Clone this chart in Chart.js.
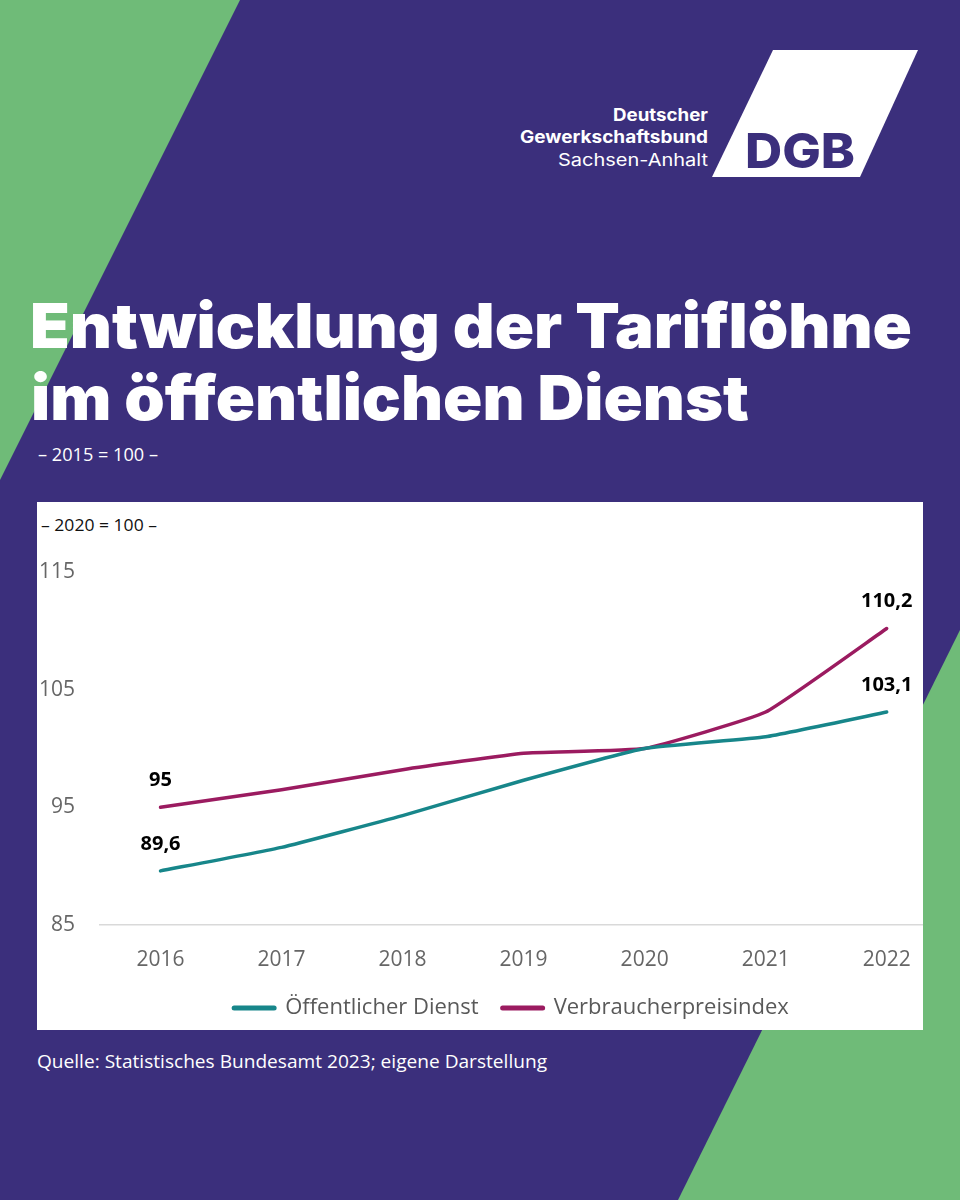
<!DOCTYPE html>
<html lang="de">
<head>
<meta charset="utf-8">
<title>Entwicklung der Tariflöhne im öffentlichen Dienst</title>
<script src="https://cdn.jsdelivr.net/npm/chart.js@4/dist/chart.umd.min.js"></script>
<style>
  html, body { margin: 0; padding: 0; }
  body { width: 960px; height: 1200px; overflow: hidden; position: relative; background: #3b2f7c; }
  svg.bg { position: absolute; left: 0; top: 0; }
  .chart-box { position: absolute; left: 37px; top: 502px; width: 886px; height: 528px; }
</style>
</head>
<body>

<svg class="bg" width="960" height="1200" viewBox="0 0 960 1200">
  <rect width="960" height="1200" fill="#3b2f7c"/>
  <polygon points="0,0 240,0 0,480" fill="#6fbb78"/>
  <polygon points="960,630 960,1200 678,1200" fill="#6fbb78"/>

  <!-- logo -->
  <polygon points="773,50 918,50 860,177 712,177" fill="#ffffff"/>
  <text x="745" y="168" font-family="Inter" font-weight="800" font-size="48" fill="#3b2f7c"
        textLength="110" lengthAdjust="spacingAndGlyphs">DGB</text>
  <g font-family="Inter" font-size="17" fill="#ffffff">
    <text x="613" y="121" font-weight="700" textLength="95" lengthAdjust="spacingAndGlyphs">Deutscher</text>
    <text x="520" y="143" font-weight="700" textLength="188" lengthAdjust="spacingAndGlyphs">Gewerkschaftsbund</text>
    <text x="558" y="166" font-weight="400" textLength="150" lengthAdjust="spacingAndGlyphs">Sachsen-Anhalt</text>
  </g>

  <!-- title -->
  <g font-family="Inter" font-weight="900" font-size="62" fill="#ffffff">
    <text x="30" y="348" textLength="882" lengthAdjust="spacingAndGlyphs">Entwicklung der Tariflöhne</text>
    <text x="31" y="420" textLength="718" lengthAdjust="spacingAndGlyphs">im öffentlichen Dienst</text>
  </g>
  <text x="38" y="461" font-family="Open Sans" font-size="18" fill="#ffffff"
        textLength="120" lengthAdjust="spacingAndGlyphs">– 2015 = 100 –</text>

  <!-- chart panel -->
  <rect x="37" y="502" width="886" height="528" fill="#ffffff"/>
  <text x="41" y="531" font-family="Open Sans" font-size="17" fill="#111111"
        textLength="116" lengthAdjust="spacingAndGlyphs">– 2020 = 100 –</text>

  <text x="37" y="1068" font-family="Open Sans" font-size="19" fill="#ffffff"
        textLength="510" lengthAdjust="spacingAndGlyphs">Quelle: Statistisches Bundesamt 2023; eigene Darstellung</text>
</svg>

<div class="chart-box">
  <canvas id="chart" width="886" height="528"></canvas>
</div>

<script>
// data (Index, 2020 = 100)
const years = [2016, 2017, 2018, 2019, 2020, 2021, 2022];
const oeffentlicherDienst = [89.6, 91.6, 94.3, 97.3, 100, 101.0, 103.1];
const verbraucherpreisindex = [95, 96.5, 98.2, 99.6, 100, 103.1, 110.2];
const seriesNames = ["Öffentlicher Dienst", "Verbraucherpreisindex"];
const seriesColors = ["#17868a", "#9b1b60"];
const yTicks = [85, 95, 105, 115];
const labelledPoints = [0, 6];   // only first and last value are annotated

const toPoints = (values) => values.map((v, i) => ({ x: years[i], y: v }));
const formatDe = (v) => String(v).replace(".", ",");

// value labels above the first and last point
const pointLabels = {
  id: "pointLabels",
  afterDatasetsDraw(chart) {
    const { ctx } = chart;
    ctx.save();
    ctx.font = 'bold 20px "Open Sans"';
    ctx.fillStyle = "#000000";
    ctx.textAlign = "center";
    ctx.textBaseline = "middle";
    chart.data.datasets.forEach((ds, i) => {
      const meta = chart.getDatasetMeta(i);
      labelledPoints.forEach(idx => {
        const pt = meta.data[idx];
        ctx.fillText(formatDe(ds.data[idx].y), pt.x, pt.y - 27);
      });
    });
    ctx.restore();
  }
};

Chart.defaults.font.family = '"Open Sans", sans-serif';

const ctx = document.getElementById("chart");

new Chart(ctx, {
  type: "line",
  data: {
    datasets: [oeffentlicherDienst, verbraucherpreisindex].map((values, i) => ({
      label: seriesNames[i],
      data: toPoints(values),
      borderColor: seriesColors[i],
      backgroundColor: seriesColors[i],
      borderWidth: 3.5,
      borderCapStyle: "round",
      tension: 0.12,
      pointRadius: 0,
      fill: false,
    })),
  },
  options: {
    responsive: false,
    animation: false,
    devicePixelRatio: 1,
    events: [],
    layout: {
      padding: { top: 70, left: 0, right: 0, bottom: 1 },
    },
    scales: {
      x: {
        type: "linear",
        min: 2015.5,
        max: 2022.3,
        afterBuildTicks: (scale) => {
          scale.ticks = years.map(v => ({ value: v }));
        },
        afterFit: (scale) => {
          scale.height = 48;
          scale.paddingLeft = 0;
          scale.paddingRight = 0;
        },
        grid: { display: false, drawTicks: false },
        border: { display: true, color: "#d9d9d9", width: 1.5 },
        ticks: {
          padding: 22,
          color: "#666666",
          font: { size: 21 },
          callback: (value) => String(value),
        },
      },
      y: {
        min: 85,
        max: 115,
        afterBuildTicks: (scale) => {
          scale.ticks = yTicks.map(v => ({ value: v }));
        },
        afterFit: (scale) => { scale.width = 63; },
        grid: { display: false, drawTicks: false },
        border: { display: false },
        ticks: {
          padding: 25,
          color: "#666666",
          font: { size: 21 },
        },
      },
    },
    plugins: {
      tooltip: { enabled: false },
      legend: {
        position: "bottom",
        fullSize: false,
        labels: {
          color: "#595959",
          font: { size: 22 },
          padding: 24,
          usePointStyle: true,
          pointStyleWidth: 40,
          generateLabels: (chart) =>
            Chart.defaults.plugins.legend.labels.generateLabels(chart).map(item => ({
              ...item,
              pointStyle: "line",
              lineWidth: 5,
              lineCap: "round",
            })),
        },
      },
    },
  },
  plugins: [pointLabels],
});
</script>
</body>
</html>
